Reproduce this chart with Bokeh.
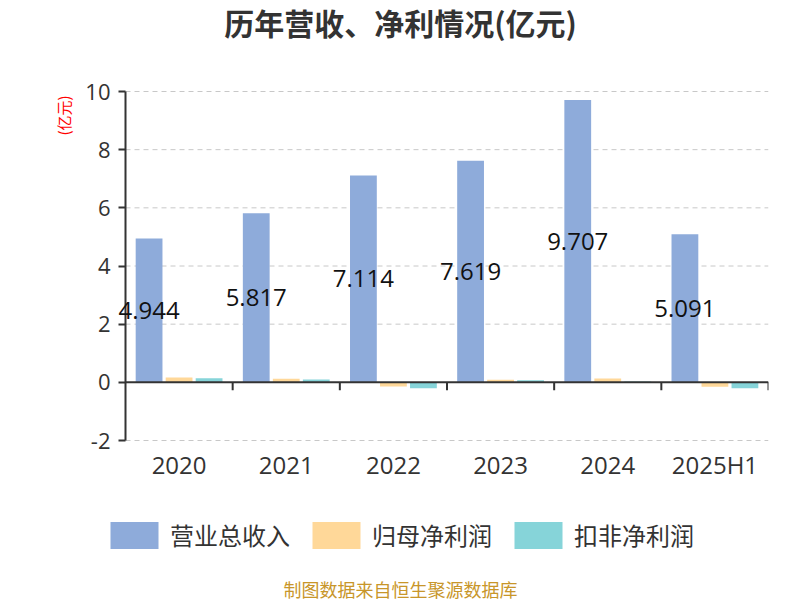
import math
from bokeh.plotting import figure
from bokeh.layouts import column
from bokeh.models import (ColumnDataSource, Range1d, FixedTicker, Legend, LegendItem,
                          Label, LabelSet)
from bokeh.core.properties import value
from bokeh.transform import dodge
from bokeh.embed import file_html
from bokeh.resources import INLINE

years = ["2020", "2021", "2022", "2023", "2024", "2025H1"]
revenue = [4.944, 5.817, 7.114, 7.619, 9.707, 5.091]
net_profit = [0.17, 0.12, -0.14, 0.09, 0.13, -0.15]
deducted_profit = [0.14, 0.10, -0.20, 0.07, 0.03, -0.20]
series_names = ["营业总收入", "归母净利润", "扣非净利润"]
series_colors = ["#8EABDA", "#FFD899", "#86D4D9"]
y_ticks = [-2, 0, 2, 4, 6, 8, 10]

xs = [i + 0.5 for i in range(len(years))]
bounds = list(range(1, len(years) + 1))
grid_ys = [v for v in y_ticks if v != 0]

src = ColumnDataSource(dict(
    x=xs, rev=revenue, npf=net_profit, ded=deducted_profit,
    mid=[v / 2 for v in revenue], lab=["%.3f" % v for v in revenue],
))

CJK = "Noto Sans CJK SC"
W, H = 800, 600
TOP_H, MID_H = 62, 430
BOT_H = H - TOP_H - MID_H
Y_TOP_PX, Y_BOT_PX = 91, 440          # pixel rows of the values 10 and -2
FRAME_TOP, FRAME_BOTTOM = 80, 450     # frame a little larger so tick labels are not clipped
AXIS_X, FRAME_R, FRAME_L = 125, 768, 52


def blank(width, height):
    f = figure(width=width, height=height, output_backend="svg", toolbar_location=None,
               title=None, x_range=Range1d(0, width), y_range=Range1d(0, height),
               x_axis_location=None, y_axis_location=None,
               min_border=0, min_border_left=0, min_border_right=0,
               min_border_top=0, min_border_bottom=0)
    f.outline_line_color = None
    f.grid.visible = False
    return f


# the column layout aligns every frame's left edge with the chart frame (FRAME_L)
# ---- title strip
t = blank(W, TOP_H)
t.add_layout(Label(x=W / 2 - FRAME_L, y=TOP_H - 21, x_units="screen", y_units="screen",
                   text="历年营收、净利情况(亿元)", text_align="center", text_baseline="middle",
                   text_font=CJK, text_font_size="30px", text_font_style="bold",
                   text_color="#333333"))

# ---- main chart
px_per_x = (FRAME_R - AXIS_X) / len(years)
y_lo, y_hi = min(y_ticks), max(y_ticks)
px_per_y = (Y_BOT_PX - Y_TOP_PX) / (y_hi - y_lo)
BL, BR, BT = FRAME_L, W - FRAME_R, FRAME_TOP - TOP_H
BB = TOP_H + MID_H - FRAME_BOTTOM
p = figure(width=W, height=MID_H, output_backend="svg", toolbar_location=None,
           title=None,
           x_range=Range1d(-(AXIS_X - FRAME_L) / px_per_x, len(years)),
           y_range=Range1d(y_lo - (FRAME_BOTTOM - Y_BOT_PX) / px_per_y,
                           y_hi + (Y_TOP_PX - FRAME_TOP) / px_per_y),
           min_border_left=BL, min_border_right=BR, min_border_top=BT, min_border_bottom=BB)
p.outline_line_color = None
p.xgrid.grid_line_color = None
p.ygrid.grid_line_color = None

# dashed value grid, starting at the y axis
p.segment(x0=[0] * len(grid_ys), y0=grid_ys, x1=[len(years)] * len(grid_ys), y1=grid_ys,
          line_color="#c8c8c8", line_dash="5 4", line_width=1)

r1 = p.vbar(x=dodge("x", -0.28), top="rev", bottom=0, width=0.25, source=src,
            fill_color=series_colors[0], line_color=None)
r2 = p.vbar(x=dodge("x", 0.0), top="npf", bottom=0, width=0.25, source=src,
            fill_color=series_colors[1], line_color=None)
r3 = p.vbar(x=dodge("x", 0.28), top="ded", bottom=0, width=0.25, source=src,
            fill_color=series_colors[2], line_color=None)

labels = LabelSet(x=dodge("x", -0.28), y="mid", text="lab", source=src,
                  text_align="center", text_baseline="middle",
                  text_font_size="24px", text_color="#111111", text_font=value("Open Sans"))
p.add_layout(labels)

# category axis line at zero with boundary ticks
p.segment(x0=[0], y0=[0], x1=[len(years)], y1=[0], line_color="#333333", line_width=2)
p.segment(x0=bounds, y0=[0] * len(bounds), x1=bounds, y1=[-0.27] * len(bounds),
          line_color="#333333", line_width=2)

# unit label
p.add_layout(Label(x=63 - FRAME_L, y=FRAME_BOTTOM - 115, x_units="screen", y_units="screen",
                   text="(亿元)", angle=math.pi / 2, text_align="center", text_baseline="middle",
                   text_font=CJK, text_font_size="15px", text_color="red"))

p.yaxis.fixed_location = 0
p.yaxis.bounds = (y_lo, y_hi)
p.yaxis.ticker = FixedTicker(ticks=y_ticks)
p.yaxis.major_label_overrides = {t_: str(t_) for t_ in y_ticks}
p.yaxis.axis_line_color = "#333333"
p.yaxis.axis_line_width = 2
p.yaxis.major_tick_line_color = "#333333"
p.yaxis.major_tick_line_width = 2
p.yaxis.major_tick_out = 7
p.yaxis.major_tick_in = 0
p.yaxis.minor_tick_line_color = None
p.yaxis.major_label_text_font_size = "22px"
p.yaxis.major_label_text_color = "#333333"
p.yaxis.major_label_text_font = "Open Sans"
p.yaxis.major_label_standoff = 8

p.xaxis.ticker = FixedTicker(ticks=xs)
p.xaxis.major_label_overrides = {x: y for x, y in zip(xs, years)}
p.xaxis.axis_line_color = None
p.xaxis.major_tick_line_color = None
p.xaxis.minor_tick_line_color = None
p.xaxis.major_label_text_font_size = "24px"
p.xaxis.major_label_text_color = "#333333"
p.xaxis.major_label_text_font = "Open Sans"
p.xaxis.major_label_standoff = 1 - (FRAME_BOTTOM - Y_BOT_PX)

# ---- legend + footer strip
b = blank(W, BOT_H)
dummies = [b.vbar(x=[-1000], top=[-1000], bottom=[-1001], width=1, fill_color=c, line_color=None)
           for c in series_colors]
legend = Legend(items=[LegendItem(label=n, renderers=[r]) for n, r in zip(series_names, dummies)],
                orientation="horizontal", location=(104 - FRAME_L, 48),
                glyph_width=60, glyph_height=34, label_standoff=6, spacing=16,
                label_text_font=CJK, label_text_font_size="24px", label_text_color="#333333",
                label_text_baseline="middle",
                border_line_color=None, background_fill_alpha=0, padding=0, margin=0)
b.add_layout(legend, "center")
b.add_layout(Label(x=W / 2 - FRAME_L, y=H - 588, x_units="screen", y_units="screen",
                   text="制图数据来自恒生聚源数据库", text_align="center", text_baseline="middle",
                   text_font=CJK, text_font_size="18px", text_color="#C8962A"))

layout = column(t, p, b)
open("out.html", "w").write(file_html(layout, INLINE))
